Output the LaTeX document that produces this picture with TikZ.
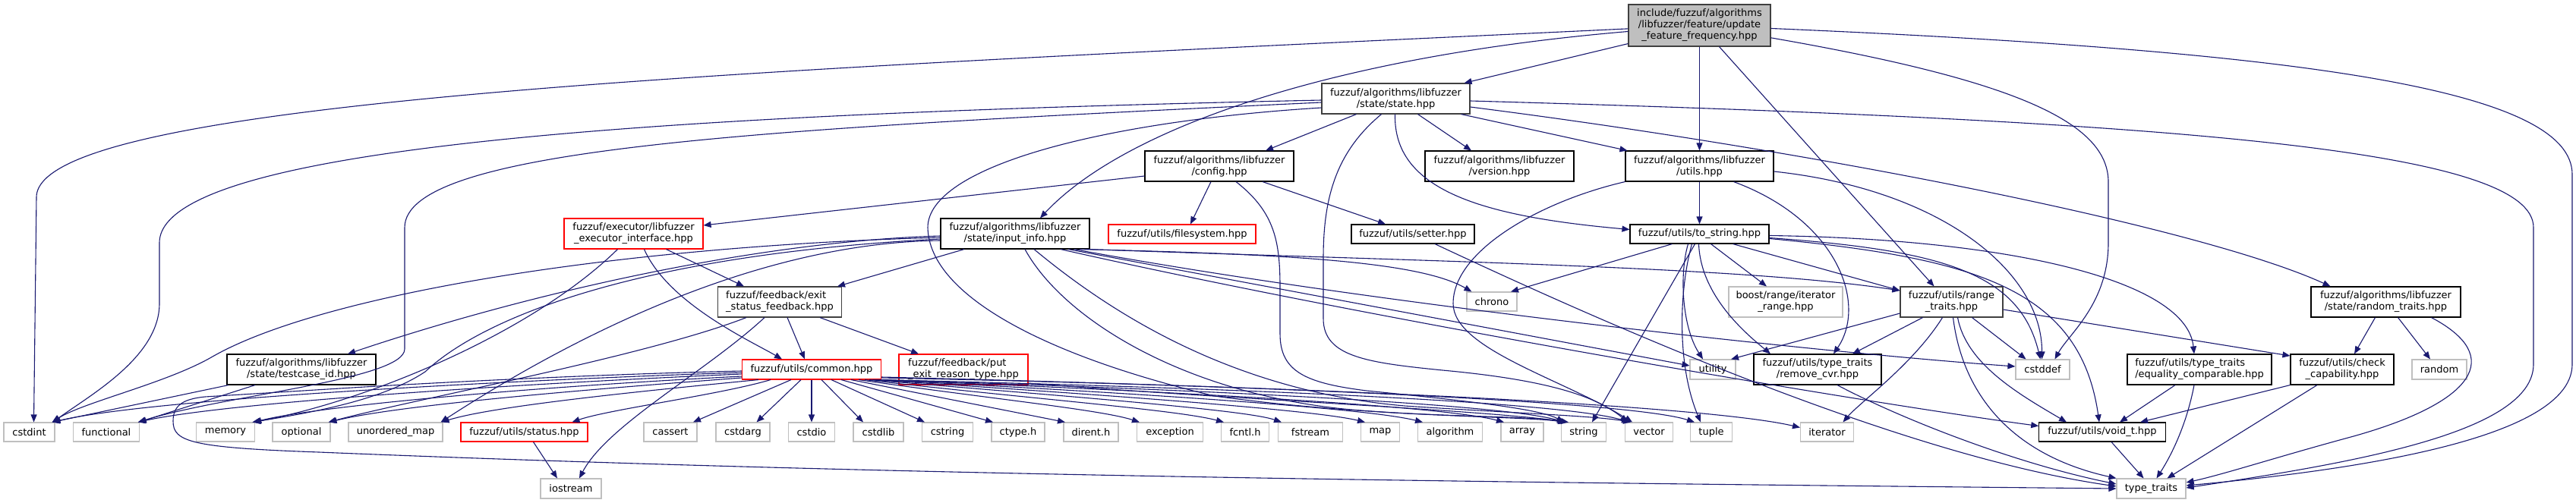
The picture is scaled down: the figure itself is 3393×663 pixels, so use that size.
\documentclass[tikz,border=0pt]{standalone}
\usepackage{fontspec}
\usetikzlibrary{arrows.meta}
\newfontfamily\dvs{DejaVu Sans}
\newcommand{\nodefont}{\dvs\fontsize{13pt}{15pt}\selectfont}
\definecolor{navy}{RGB}{25,25,112}
\definecolor{lgrey}{RGB}{191,191,191}
\definecolor{dgrey}{RGB}{64,64,64}
\definecolor{fred}{RGB}{255,0,0}
\tikzset{
  nd/.style={draw, line width=1.1pt, inner sep=0pt, font=\nodefont, align=center, text=black},
  blk/.style={nd, draw=black},
  dg/.style={nd, draw=dgrey},
  rd/.style={nd, draw=fred},
  ext/.style={nd, draw=lgrey},
  mainnd/.style={nd, draw=dgrey, fill=lgrey},
  lft/.style={align=left},
  e/.style={draw=navy, line width=1.1pt, -{Triangle[length=10pt,width=8pt]}},
  sz/.style 2 args={minimum width=#1pt, minimum height=#2pt},
}
\begin{document}
\begin{tikzpicture}[x=1pt,y=-1pt]
\fill[white] (0,0) rectangle (3393,663);
\useasboundingbox (0,0) rectangle (3393,663);

% ---------- nodes ----------
\node[mainnd, sz={187}{55}] (M) at (2238.5,33.5) {include/fuzzuf/algorithms\\/libfuzzer/feature/update\\\_feature\_frequency.hpp};
\node[dg, sz={195}{40}] (S) at (1838.5,130) {fuzzuf/algorithms/libfuzzer\\/state/state.hpp};
\node[blk, sz={196}{40}] (CFG) at (1606,219) {fuzzuf/algorithms/libfuzzer\\/config.hpp};
\node[blk, sz={196}{40}] (VER) at (1975,219) {fuzzuf/algorithms/libfuzzer\\/version.hpp};
\node[blk, sz={195}{40}] (LFU) at (2238.5,219) {fuzzuf/algorithms/libfuzzer\\/utils.hpp};
\node[rd, sz={183}{40}] (EXE) at (834.5,308) {fuzzuf/executor/libfuzzer\\\_executor\_interface.hpp};
\node[blk, sz={196}{40}] (INF) at (1337,308) {fuzzuf/algorithms/libfuzzer\\/state/input\_info.hpp};
\node[rd, sz={194}{25}] (FS) at (1557,308.5) {fuzzuf/utils/filesystem.hpp};
\node[blk, sz={162}{25}] (SET) at (1861,308.5) {fuzzuf/utils/setter.hpp};
\node[blk, sz={183}{25}] (TS) at (2238.5,308.5) {fuzzuf/utils/to\_string.hpp};
\node[dg, lft, sz={163.5}{40}] (EXS) at (1027,398) {fuzzuf/feedback/exit\\\_status\_feedback.hpp};
\node[ext, sz={66}{25}] (CHR) at (1965,397.5) {chrono};
\node[ext, sz={150}{40}] (BST) at (2352,398) {boost/range/iterator\\\_range.hpp};
\node[dg, sz={135}{40}] (RGT) at (2570.5,398) {fuzzuf/utils/range\\\_traits.hpp};
\node[blk, sz={197}{40}] (RNT) at (3142.5,398) {fuzzuf/algorithms/libfuzzer\\/state/random\_traits.hpp};
\node[blk, sz={196}{40}] (TID) at (397,487) {fuzzuf/algorithms/libfuzzer\\/state/testcase\_id.hpp};
\node[rd, sz={183}{26}] (COM) at (1069,487) {fuzzuf/utils/common.hpp};
\node[rd, lft, sz={170}{40}] (PUT) at (1269,487) {fuzzuf/feedback/put\\\_exit\_reason\_type.hpp};
\node[ext, sz={60}{26}] (UTL) at (2256,487) {utility};
\node[blk, sz={168}{40}] (RCV) at (2394,487) {fuzzuf/utils/type\_traits\\/remove\_cvr.hpp};
\node[ext, sz={71}{26}] (CDF) at (2690.5,487) {cstddef};
\node[blk, lft, sz={190}{40}] (EQC) at (2897,487) {fuzzuf/utils/type\_traits\\/equality\_comparable.hpp};
\node[blk, sz={136}{40}] (CHK) at (3085,487) {fuzzuf/utils/check\\\_capability.hpp};
\node[ext, sz={72}{26}] (RND) at (3213,487) {random};

\node[ext, sz={67}{25}] (CI) at (38.5,569.5) {cstdint};
\node[ext, sz={86.5}{25}] (FUN) at (140,569.5) {functional};
\node[ext, sz={77.5}{25}] (MEM) at (297,569.5) {memory};
\node[ext, sz={76}{25}] (OPT) at (397,569.5) {optional};
\node[ext, sz={124}{25}] (UMP) at (521,569.5) {unordered\_map};
\node[rd, sz={167}{25}] (STA) at (690.5,569.5) {fuzzuf/utils/status.hpp};
\node[ext, sz={70}{25}] (CAS) at (883,569.5) {cassert};
\node[ext, sz={71}{25}] (CDA) at (978.5,569.5) {cstdarg};
\node[ext, sz={61.5}{25}] (CIO) at (1069,569.5) {cstdio};
\node[ext, sz={66}{25}] (CSL) at (1157,569.5) {cstdlib};
\node[ext, sz={67.5}{25}] (CSG) at (1248,569.5) {cstring};
\node[ext, sz={70}{25}] (CTY) at (1341,569.5) {ctype.h};
\node[ext, sz={72}{25}] (DIR) at (1437,569.5) {dirent.h};
\node[ext, sz={86.5}{25}] (EXC) at (1541,569.5) {exception};
\node[ext, sz={63}{25}] (FCN) at (1640,569.5) {fcntl.h};
\node[ext, sz={85}{25}] (FST) at (1726,569.5) {fstream};
\node[ext, sz={51}{25}] (MAP) at (1818,569.5) {map};
\node[ext, sz={85}{25}] (ALG) at (1910,569.5) {algorithm};
\node[ext, sz={56}{25}] (ARR) at (2005,569.5) {array};
\node[ext, sz={59}{25}] (STR) at (2086,569.5) {string};
\node[ext, sz={62.5}{25}] (VEC) at (2172,569.5) {vector};
\node[ext, sz={55}{25}] (TUP) at (2254,569.5) {tuple};
\node[ext, sz={70}{25}] (ITR) at (2406.5,569.5) {iterator};
\node[blk, sz={166.5}{25}] (VOI) at (2769,569.5) {fuzzuf/utils/void\_t.hpp};
\node[ext, sz={80}{26}] (IOS) at (752,644) {iostream};
\node[ext, sz={91}{26}] (TT) at (2833.5,644) {type\_traits};

% ---------- edges: main ----------
\draw[e] (M) .. controls (1000,92) and (48,130) .. (48,260) -- ([xshift=6pt]CI.north);
\draw[e] ([yshift=4pt]M.south west) -- ([xshift=-8pt]S.north east);
\draw[e] (M) .. controls (1750,75) and (1480,170) .. ([xshift=33pt]INF.north);
\draw[e] (M) -- (LFU);
\draw[e] ([xshift=26pt]M.south) -- ([xshift=-23pt]RGT.north);
\draw[e] (M) .. controls (2650,105) and (2777,160) .. (2777,240) -- (2777,320) .. controls (2777,400) and (2725,440) .. ([xshift=16pt]CDF.north);
\draw[e] (M) .. controls (3050,68) and (3388,120) .. (3388,230) -- (3388,480) .. controls (3388,570) and (3150,615) .. ([yshift=4pt]TT.east);

% ---------- state ----------
\draw[e] ([xshift=-52pt]S.south) -- ([xshift=61pt]CFG.north);
\draw[e] ([xshift=29pt]S.south) -- ([xshift=-37pt]VER.north);
\draw[e] ([xshift=86pt]S.south) -- ([xshift=3pt]LFU.north west);
\draw[e] ([xshift=-1pt]S.south) .. controls (1835,250) and (1950,285) .. ([yshift=6pt]TS.west);
\draw[e] ([yshift=-3pt]S.east) .. controls (2900,160) and (3337,200) .. (3337,300) -- (3337,480) .. controls (3337,570) and (3100,610) .. ([yshift=1pt]TT.east);
\draw[e] ([yshift=-11pt]S.east) .. controls (2400,200) and (2900,300) .. ([xshift=-73pt]RNT.north);
\draw[e] ([yshift=-2pt]S.west) .. controls (900,150) and (210,190) .. (210,320) -- (210,400) .. controls (210,470) and (120,520) .. ([xshift=-3pt]CI.north east);
\draw[e] ([yshift=-5pt]S.west) .. controls (1000,170) and (533,195) .. (533,300) -- (533,460) .. controls (533,500) and (300,520) .. ([xshift=-2pt]FUN.north east);
\draw[e] ([yshift=-12pt]S.west) .. controls (1450,160) and (1222,220) .. (1222,300) .. controls (1224,390) and (1380,470) .. (1600,522) .. controls (1800,550) and (2000,548) .. ([xshift=-24pt]STR.north);
\draw[e] ([xshift=-19pt]S.south) .. controls (1760,200) and (1743,260) .. (1743,340) -- (1743,420) .. controls (1743,470) and (1800,478) .. (1900,488) .. controls (2030,500) and (2100,520) .. ([xshift=-28pt]VEC.north);

% ---------- config ----------
\draw[e] ([yshift=-13pt]CFG.west) -- ([yshift=11pt]EXE.east);
\draw[e] ([xshift=-11pt]CFG.south) -- ([xshift=11pt]FS.north);
\draw[e] ([xshift=57pt]CFG.south) -- ([xshift=-36pt]SET.north);
\draw[e] ([xshift=22pt]CFG.south) .. controls (1680,280) and (1686,320) .. (1686,380) -- (1686,440) .. controls (1686,490) and (1720,505) .. (1800,515) .. controls (1950,530) and (2030,540) .. ([xshift=-26pt]STR.north);

% ---------- libfuzzer utils ----------
\draw[e] (LFU) -- (TS);
\draw[e] (LFU.south west) .. controls (2030,265) and (1914,330) .. (1914,400) .. controls (1914,460) and (2060,500) .. ([xshift=-22pt]VEC.north);
\draw[e] ([xshift=45pt]LFU.south) .. controls (2420,290) and (2460,400) .. ([xshift=21pt]RCV.north);
\draw[e] ([yshift=-7pt]LFU.east) .. controls (2560,250) and (2690,360) .. ([xshift=-1pt]CDF.north);

% ---------- to_string ----------
\draw[e] ([xshift=-36pt]TS.south) -- ([xshift=25pt]CHR.north);
\draw[e] ([xshift=15pt]TS.south) -- ([xshift=-25pt]BST.north);
\draw[e] ([xshift=44pt]TS.south) -- ([yshift=15pt]RGT.west);
\draw[e] ([xshift=-15pt]TS.south) .. controls (2212,360) and (2215,430) .. ([xshift=-13pt]UTL.north);
\draw[e] ([xshift=-1pt]TS.south) .. controls (2240,390) and (2300,440) .. ([xshift=-62pt]RCV.north);
\draw[e] ([xshift=-6pt]TS.south) -- ([xshift=11pt]STR.north);
\draw[e] ([xshift=-10pt]TS.south) .. controls (2212,380) and (2208,480) .. ([xshift=-14pt]TUP.north);
\draw[e] ([yshift=-2pt]TS.east) .. controls (2650,315) and (2880,370) .. ([xshift=-7pt]EQC.north);
\draw[e] ([yshift=-5pt]TS.east) .. controls (2560,330) and (2660,360) .. ([xshift=-3pt]CDF.north);
\draw[e] ([yshift=-6pt]TS.east) .. controls (2600,340) and (2740,380) .. ([xshift=-4pt]VOI.north);

% ---------- range_traits ----------
\draw[e] ([yshift=-15pt]RGT.west) -- ([xshift=24pt]UTL.north);
\draw[e] ([xshift=-38pt]RGT.south) -- ([xshift=46pt]RCV.north);
\draw[e] ([xshift=-12pt]RGT.south) .. controls (2520,480) and (2450,530) .. ([xshift=21pt]ITR.north);
\draw[e] ([xshift=27pt]RGT.south) -- ([xshift=-22pt]CDF.north);
\draw[e] ([xshift=8pt]RGT.south) .. controls (2590,480) and (2660,520) .. ([xshift=-47pt]VOI.north);
\draw[e] ([xshift=2pt]RGT.south) .. controls (2585,520) and (2650,600) .. (TT.north west);
\draw[e] ([yshift=-10pt]RGT.east) -- ([yshift=18pt]CHK.west);

% ---------- random_traits ----------
\draw[e] ([xshift=-14pt]RNT.south) -- ([xshift=16pt]CHK.north);
\draw[e] ([xshift=16pt]RNT.south) -- ([xshift=-12pt]RND.north);
\draw[e] ([xshift=60pt]RNT.south) .. controls (3300,470) and (3260,530) .. (3100,575) .. controls (3000,602) and (2930,625) .. ([yshift=8pt]TT.east);

% ---------- small utils ----------
\draw[e] ([xshift=-32pt]EQC.south) -- ([xshift=23pt]VOI.north);
\draw[e] ([xshift=-7pt]EQC.south) .. controls (2880,560) and (2860,600) .. ([xshift=7pt]TT.north);
\draw[e] (CHK.south west) -- ([xshift=50pt]VOI.north);
\draw[e] ([xshift=-33pt]CHK.south) -- ([xshift=21pt]TT.north);
\draw[e] ([xshift=12pt]VOI.south) -- ([xshift=-10pt]TT.north);
\draw[e] ([xshift=26pt]RCV.south) .. controls (2500,550) and (2650,610) .. ([yshift=6pt]TT.west);
\draw[e] ([xshift=29pt]SET.south) .. controls (2100,420) and (2500,600) .. ([yshift=3pt]TT.west);

% ---------- input_info ----------
\draw[e] ([xshift=-67pt]INF.south) -- ([xshift=76pt]EXS.north);
\draw[e] ([yshift=-3pt]INF.west) .. controls (1000,318) and (700,385) .. ([xshift=61pt]TID.north);
\draw[e] ([yshift=-5pt]INF.west) .. controls (800,325) and (420,390) .. (280,470) .. controls (220,505) and (110,530) .. ([xshift=-4pt]CI.north east);
\draw[e] ([yshift=-7pt]INF.west) .. controls (850,335) and (640,415) .. (560,490) .. controls (500,530) and (400,545) .. ([xshift=-3pt]MEM.north east);
\draw[e] ([yshift=-9pt]INF.west) .. controls (1000,320) and (760,440) .. ([xshift=-3pt]UMP.north east);
\draw[e] ([xshift=85pt]INF.south) .. controls (1700,335) and (1870,345) .. ([xshift=7pt]CHR.north west);
\draw[e] ([xshift=95pt]INF.south) .. controls (1900,345) and (2300,352) .. ([yshift=15pt]RGT.west);
\draw[e] ([xshift=70pt]INF.south) -- ([yshift=5pt]UTL.west);
\draw[e] ([xshift=60pt]INF.south) .. controls (1800,420) and (2450,530) .. ([yshift=8pt]VOI.west);
\draw[e] ([xshift=78pt]INF.south) .. controls (1800,400) and (2400,465) .. ([yshift=4pt]CDF.west);
\draw[e] ([xshift=13pt]INF.south) .. controls (1400,420) and (1560,520) .. (1780,540) .. controls (1900,550) and (2010,548) .. ([xshift=-22pt]STR.north);
\draw[e] ([xshift=25pt]INF.south) .. controls (1460,410) and (1620,515) .. (1850,535) .. controls (2000,545) and (2100,548) .. ([xshift=-24pt]VEC.north);

% ---------- executor / feedback ----------
\draw[e] ([xshift=-21pt]EXE.south) .. controls (700,440) and (480,530) .. ([xshift=-4pt]MEM.north east);
\draw[e] ([xshift=14pt]EXE.south) .. controls (880,400) and (990,450) .. ([xshift=-39pt]COM.north);
\draw[e] ([xshift=43pt]EXE.south) -- ([xshift=-47pt]EXS.north);
\draw[e] ([xshift=10pt]EXS.south) -- ([xshift=-9pt]COM.north);
\draw[e] ([xshift=53pt]EXS.south) -- ([xshift=-59pt]PUT.north);
\draw[e] ([xshift=-20pt]EXS.south) .. controls (930,490) and (800,560) .. ([xshift=11pt]IOS.north);
\draw[e] ([xshift=-44pt]EXS.south) .. controls (850,470) and (550,525) .. ([xshift=-3pt]OPT.north east);
\draw[e] ([yshift=-18pt]PUT.east) .. controls (1600,525) and (1950,540) .. ([xshift=-20pt]STR.north);
\draw[e] ([xshift=-96pt]TID.south) -- ([xshift=-4pt]CI.north east);
\draw[e] ([xshift=-61pt]TID.south) -- ([xshift=-1pt]FUN.north east);
\draw[e] ([xshift=12pt]STA.south) -- ([xshift=-18pt]IOS.north);

% ---------- common ----------
\draw[e] ([yshift=-2pt]COM.west) .. controls (800,493) and (600,503) .. (480,510) -- (270,523) .. controls (240,526) and (228,535) .. (228,555) .. controls (228,582) and (250,590) .. (420,596) .. controls (1200,628) and (2000,636) .. (TT.west);
\draw[e] ([yshift=-4pt]COM.west) .. controls (700,500) and (200,525) .. ([xshift=-3pt]CI.north east);
\draw[e] ([yshift=-6pt]COM.west) .. controls (700,505) and (300,530) .. ([xshift=-2pt]FUN.north east);
\draw[e] ([yshift=-9pt]COM.west) .. controls (700,510) and (420,535) .. ([xshift=-2pt]MEM.north east);
\draw[e] ([yshift=-11pt]COM.west) .. controls (750,515) and (520,535) .. ([xshift=-2pt]OPT.north east);
\draw[e] ([xshift=-70pt]COM.south) .. controls (850,515) and (650,535) .. ([xshift=-2pt]UMP.north east);
\draw[e] ([xshift=-54pt]COM.south) .. controls (950,520) and (800,540) .. ([xshift=63pt]STA.north);
\draw[e] ([xshift=-27pt]COM.south) -- ([xshift=30pt]CAS.north);
\draw[e] ([xshift=-14pt]COM.south) -- ([xshift=18pt]CDA.north);
\draw[e] (COM) -- (CIO);
\draw[e] ([xshift=13pt]COM.south) -- ([xshift=-20pt]CSL.north);
\draw[e] ([xshift=26pt]COM.south) -- ([xshift=-30pt]CSG.north);
\draw[e] ([xshift=39pt]COM.south) -- ([xshift=-33pt]CTY.north);
\draw[e] ([xshift=52pt]COM.south) -- ([xshift=-34pt]DIR.north);
\draw[e] ([xshift=62pt]COM.south) .. controls (1300,525) and (1450,540) .. ([xshift=-40pt]EXC.north);
\draw[e] ([xshift=70pt]COM.south) .. controls (1350,525) and (1550,540) .. ([xshift=-28pt]FCN.north);
\draw[e] ([xshift=76pt]COM.south) .. controls (1400,522) and (1640,540) .. ([xshift=-38pt]FST.north);
\draw[e] ([xshift=80pt]COM.south) .. controls (1450,520) and (1730,540) .. ([xshift=-20pt]MAP.north);
\draw[e] ([xshift=84pt]COM.south) .. controls (1500,518) and (1800,538) .. ([xshift=-36pt]ALG.north);
\draw[e] ([xshift=87pt]COM.south) .. controls (1550,516) and (1900,535) .. ([xshift=-24pt]ARR.north);
\draw[e] ([xshift=89pt]COM.south) .. controls (1600,514) and (1980,533) .. ([xshift=-25pt]STR.north);
\draw[e] ([xshift=90pt]COM.south) .. controls (1650,512) and (2060,530) .. ([xshift=-26pt]VEC.north);
\draw[e] ([yshift=-10pt]COM.east) .. controls (1700,510) and (2150,530) .. ([xshift=-22pt]TUP.north);
\draw[e] ([yshift=-11pt]COM.east) .. controls (1750,510) and (2250,535) .. ([yshift=6pt]ITR.west);
\end{tikzpicture}
\end{document}
